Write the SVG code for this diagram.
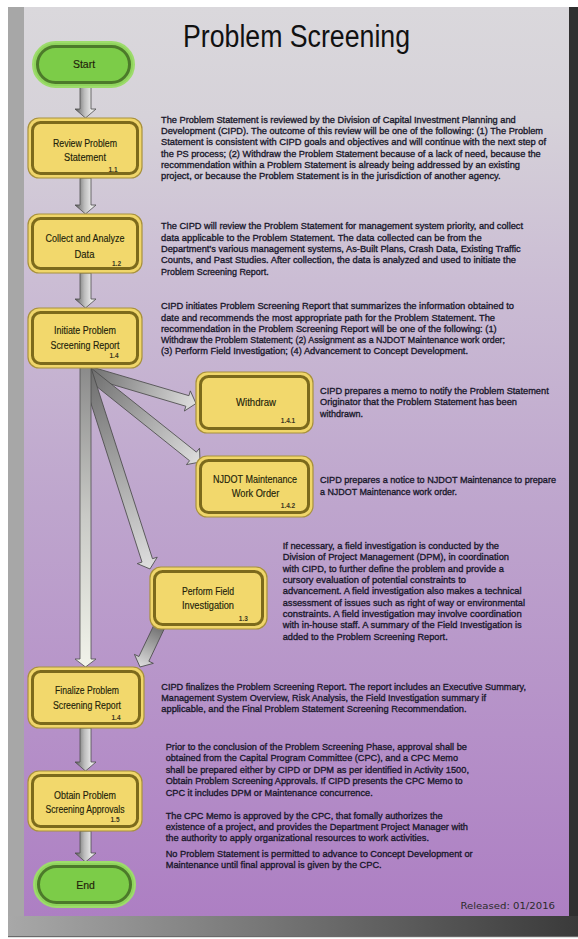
<svg xmlns="http://www.w3.org/2000/svg" width="578" height="939" viewBox="0 0 578 939">
<style>
.t{font-family:"Liberation Sans",Arial,sans-serif;font-size:9.4px;fill:#18172a;stroke:#18172a;stroke-width:0.32}
.lbl{font-family:"Liberation Sans",Arial,sans-serif;font-size:10.5px;fill:#221e0a;stroke:#221e0a;stroke-width:0.15;text-anchor:middle}
.num{font-family:"Liberation Sans",Arial,sans-serif;font-size:6.5px;font-weight:bold;fill:#3a3520;text-anchor:middle}
.box-o{fill:#f0d66a;stroke:#a8913c;stroke-width:1.2}
.box-i{fill:#f2d86c;stroke:#7c6a1c;stroke-width:3}
.pill-o{fill:#8fd45c;stroke:#9ddc6c;stroke-width:2}
.pill-i{fill:#7ccc48;stroke:#4c7a2a;stroke-width:3}
.arr{stroke:#4e4e4e;stroke-width:0.8;stroke-linejoin:miter}
</style>
<defs>
<linearGradient id="bg" x1="0" y1="0" x2="0" y2="1">
<stop offset="0" stop-color="#dad8dc"/>
<stop offset="0.12" stop-color="#d6d2d9"/>
<stop offset="0.3" stop-color="#cbbdd4"/>
<stop offset="0.55" stop-color="#bea5cd"/>
<stop offset="0.8" stop-color="#b590c8"/>
<stop offset="1" stop-color="#ad7fc3"/>
</linearGradient>
<linearGradient id="band" x1="0" y1="0" x2="1" y2="0">
<stop offset="0" stop-color="#a8a8a8"/>
<stop offset="1" stop-color="#3a3a3a"/>
</linearGradient>
<linearGradient id="gCross" x1="0" y1="0" x2="1" y2="0">
<stop offset="0" stop-color="#5a5a5a"/>
<stop offset="0.45" stop-color="#bcbcbc"/>
<stop offset="0.8" stop-color="#ebebeb"/>
<stop offset="1" stop-color="#cfcfcf"/>
</linearGradient>
<linearGradient id="gLen" x1="0" y1="0" x2="0" y2="1">
<stop offset="0" stop-color="#6c6c6c"/>
<stop offset="1" stop-color="#dedede"/>
</linearGradient>
<linearGradient id="gLong" x1="0" y1="0" x2="0" y2="1">
<stop offset="0" stop-color="#8a8a8a"/>
<stop offset="0.5" stop-color="#c9cac6"/>
<stop offset="1" stop-color="#f1f3ea"/>
</linearGradient>
</defs>

<g id="page">
<rect x="0" y="0" width="578" height="939" fill="#ffffff"/>
<rect x="8" y="7" width="16" height="930" fill="#a7a7a7"/>
<rect x="569" y="7" width="9" height="930" fill="#2f2f2f"/>
<rect x="24" y="7" width="545" height="909" fill="url(#bg)"/>
<rect x="8" y="916" width="570" height="21" fill="url(#band)"/>
<rect x="8" y="936" width="570" height="1.2" fill="#6a6a6a"/>
</g>

<text id="title" x="183" y="46.5" font-family="'Liberation Sans',Arial,sans-serif" font-size="31" fill="#111" textLength="227" lengthAdjust="spacingAndGlyphs">Problem Screening</text>

<g id="connectors">
<path class="arr" fill="url(#gLen)" transform="translate(86,371) rotate(-73.54)" d="M-5.5,0 L5.5,0 L5.5,105.7 L10.5,105.7 L0,114.7 L-10.5,105.7 L-5.5,105.7 Z"/>
<path class="arr" fill="url(#gLen)" transform="translate(86,371) rotate(-51.4)" d="M-5.5,0 L5.5,0 L5.5,136.9 L10.5,136.9 L0,145.9 L-10.5,136.9 L-5.5,136.9 Z"/>
<path class="arr" fill="url(#gLen)" transform="translate(86,370) rotate(-17.83)" d="M-5.5,0 L5.5,0 L5.5,200 L10.5,200 L0,209 L-10.5,200 L-5.5,200 Z"/>
<path class="arr" fill="url(#gLong)" d="M80,366 L91,366 L91,659 L96,659 L85.5,667 L75,659 L80,659 Z"/>
<path class="arr" fill="url(#gLen)" transform="translate(160,625) rotate(25.46)" d="M-5.5,0 L5.5,0 L5.5,37.5 L10.5,37.5 L0,46.5 L-10.5,37.5 L-5.5,37.5 Z"/>
<path class="arr" fill="url(#gCross)" d="M80,86 L91,86 L91,109 L96,109 L85.5,118 L75,109 L80,109 Z"/>
<path class="arr" fill="url(#gCross)" d="M80,178 L91,178 L91,205 L96,205 L85.5,214 L75,205 L80,205 Z"/>
<path class="arr" fill="url(#gCross)" d="M80,273 L91,273 L91,299 L96,299 L85.5,308 L75,299 L80,299 Z"/>
<path class="arr" fill="url(#gCross)" d="M80,728 L91,728 L91,762 L96,762 L85.5,771 L75,762 L80,762 Z"/>
<path class="arr" fill="url(#gCross)" d="M80,831 L91,831 L91,853 L96,853 L85.5,862 L75,853 L80,853 Z"/>
</g>

<g id="start">
<rect class="pill-o" x="33" y="42" width="101" height="45" rx="22.5"/>
<rect class="pill-i" x="37.5" y="46.5" width="92" height="36" rx="18"/>
<text class="lbl" x="84" y="68">Start</text>
</g>

<g id="review">
<rect class="box-o" x="28" y="118" width="114" height="60" rx="11"/>
<rect class="box-i" x="32.5" y="122.5" width="105" height="51" rx="8"/>
<text class="lbl" x="85" y="147.2" textLength="64" lengthAdjust="spacingAndGlyphs">Review Problem</text>
<text class="lbl" x="85" y="160.6" textLength="42" lengthAdjust="spacingAndGlyphs">Statement</text>
<text class="num" x="113" y="171.6">1.1</text>
</g>

<g id="collect">
<rect class="box-o" x="28" y="214" width="114" height="59" rx="11"/>
<rect class="box-i" x="32.5" y="218.5" width="105" height="50" rx="8"/>
<text class="lbl" x="85" y="242.2" textLength="79" lengthAdjust="spacingAndGlyphs">Collect and Analyze</text>
<text class="lbl" x="84.5" y="257.6" textLength="20" lengthAdjust="spacingAndGlyphs">Data</text>
<text class="num" x="116.5" y="266.3">1.2</text>
</g>

<g id="initiate">
<rect class="box-o" x="28" y="308" width="114" height="60" rx="11"/>
<rect class="box-i" x="32.5" y="312.5" width="105" height="51" rx="8"/>
<text class="lbl" x="85" y="333.9" textLength="62" lengthAdjust="spacingAndGlyphs">Initiate Problem</text>
<text class="lbl" x="85" y="348.6" textLength="69" lengthAdjust="spacingAndGlyphs">Screening Report</text>
<text class="num" x="114" y="358">1.4</text>
</g>

<g id="withdraw">
<rect class="box-o" x="196" y="372" width="117" height="61" rx="11"/>
<rect class="box-i" x="200.5" y="376.5" width="108" height="52" rx="8"/>
<text class="lbl" x="256" y="405.6" textLength="40" lengthAdjust="spacingAndGlyphs">Withdraw</text>
<text class="num" x="288" y="423.3">1.4.1</text>
</g>

<g id="njdot">
<rect class="box-o" x="196" y="456" width="117" height="61" rx="11"/>
<rect class="box-i" x="200.5" y="460.5" width="108" height="52" rx="8"/>
<text class="lbl" x="255" y="482.9" textLength="84" lengthAdjust="spacingAndGlyphs">NJDOT Maintenance</text>
<text class="lbl" x="255.5" y="496.6" textLength="47.6" lengthAdjust="spacingAndGlyphs">Work Order</text>
<text class="num" x="288" y="508">1.4.2</text>
</g>

<g id="field">
<rect class="box-o" x="150" y="567" width="117" height="62" rx="11"/>
<rect class="box-i" x="154.5" y="571.5" width="108" height="53" rx="8"/>
<text class="lbl" x="208" y="594.6" textLength="52" lengthAdjust="spacingAndGlyphs">Perform Field</text>
<text class="lbl" x="208" y="608.6" textLength="52" lengthAdjust="spacingAndGlyphs">Investigation</text>
<text class="num" x="243.3" y="620.6">1.3</text>
</g>

<g id="finalize">
<rect class="box-o" x="28" y="667" width="116" height="61" rx="11"/>
<rect class="box-i" x="32.5" y="671.5" width="107" height="52" rx="8"/>
<text class="lbl" x="87" y="693.9" textLength="64" lengthAdjust="spacingAndGlyphs">Finalize Problem</text>
<text class="lbl" x="87" y="708.5" textLength="68" lengthAdjust="spacingAndGlyphs">Screening Report</text>
<text class="num" x="116" y="719.6">1.4</text>
</g>

<g id="obtain">
<rect class="box-o" x="28" y="771" width="114" height="60" rx="11"/>
<rect class="box-i" x="32.5" y="775.5" width="105" height="51" rx="8"/>
<text class="lbl" x="85" y="798.9" textLength="62" lengthAdjust="spacingAndGlyphs">Obtain Problem</text>
<text class="lbl" x="85" y="812.5" textLength="79" lengthAdjust="spacingAndGlyphs">Screening Approvals</text>
<text class="num" x="115" y="822.3">1.5</text>
</g>

<g id="end">
<rect class="pill-o" x="34" y="862" width="101" height="45" rx="22.5"/>
<rect class="pill-i" x="38.5" y="866.5" width="92" height="36" rx="18"/>
<text class="lbl" x="85.5" y="888.6">End</text>
</g>

<g id="annotations">
<text class="t" x="161" y="122.7" textLength="354.7" lengthAdjust="spacingAndGlyphs">The Problem Statement is reviewed by the Division of Capital Investment Planning and</text>
<text class="t" x="161" y="134" textLength="382" lengthAdjust="spacingAndGlyphs">Development (CIPD).  The outcome of this review will be one of  the following: (1) The Problem</text>
<text class="t" x="161" y="145.3" textLength="385" lengthAdjust="spacingAndGlyphs">Statement is consistent with CIPD goals and objectives and will continue with the next step of</text>
<text class="t" x="161" y="156.6" textLength="379.7" lengthAdjust="spacingAndGlyphs">the PS process; (2) Withdraw the Problem Statement because of a lack of need, because the</text>
<text class="t" x="161" y="167.9" textLength="359" lengthAdjust="spacingAndGlyphs">recommendation within a Problem Statement is already being addressed by an existing</text>
<text class="t" x="161" y="179.2" textLength="339.7" lengthAdjust="spacingAndGlyphs">project, or because the Problem Statement is in the jurisdiction of another agency.</text>

<text class="t" x="161" y="229.4" textLength="362" lengthAdjust="spacingAndGlyphs">The CIPD will review the Problem Statement for management system priority, and collect</text>
<text class="t" x="161" y="240.7" textLength="320.7" lengthAdjust="spacingAndGlyphs">data applicable to the Problem Statement. The data collected can be from the</text>
<text class="t" x="161" y="252" textLength="359.7" lengthAdjust="spacingAndGlyphs">Department’s various management systems, As-Built Plans, Crash Data, Existing Traffic</text>
<text class="t" x="161" y="263.3" textLength="355" lengthAdjust="spacingAndGlyphs">Counts, and Past Studies. After collection, the data is analyzed and used to initiate the</text>
<text class="t" x="161" y="274.6" textLength="107.7" lengthAdjust="spacingAndGlyphs">Problem Screening Report.</text>

<text class="t" x="161" y="309.4" textLength="353" lengthAdjust="spacingAndGlyphs">CIPD initiates Problem Screening Report that summarizes the information obtained to</text>
<text class="t" x="161" y="320.7" textLength="334" lengthAdjust="spacingAndGlyphs">date and recommends the most appropriate path for the Problem Statement. The</text>
<text class="t" x="161" y="331.9" textLength="335.7" lengthAdjust="spacingAndGlyphs">recommendation in the Problem Screening Report will be one of the following: (1)</text>
<text class="t" x="161" y="343.2" textLength="344" lengthAdjust="spacingAndGlyphs">Withdraw the Problem Statement; (2) Assignment as a NJDOT Maintenance work order;</text>
<text class="t" x="161" y="354.4" textLength="307" lengthAdjust="spacingAndGlyphs">(3) Perform Field Investigation; (4) Advancement to Concept Development.</text>

<text class="t" x="320" y="394.1" textLength="228.7" lengthAdjust="spacingAndGlyphs">CIPD prepares a memo to notify the Problem Statement</text>
<text class="t" x="320" y="405.2" textLength="197" lengthAdjust="spacingAndGlyphs">Originator that the Problem Statement has been</text>
<text class="t" x="320" y="416.5" textLength="43" lengthAdjust="spacingAndGlyphs">withdrawn.</text>

<text class="t" x="320" y="483.4" textLength="236" lengthAdjust="spacingAndGlyphs">CIPD prepares a notice to NJDOT Maintenance to prepare</text>
<text class="t" x="320" y="494.9" textLength="137" lengthAdjust="spacingAndGlyphs">a NJDOT Maintenance work order.</text>

<text class="t" x="282.7" y="549.1" textLength="216.3" lengthAdjust="spacingAndGlyphs">If necessary, a field investigation is conducted by the</text>
<text class="t" x="282.7" y="560.4" textLength="226.3" lengthAdjust="spacingAndGlyphs">Division of Project Management (DPM), in coordination</text>
<text class="t" x="282.7" y="571.7" textLength="221.3" lengthAdjust="spacingAndGlyphs">with CIPD, to further define the problem and provide a</text>
<text class="t" x="282.7" y="583" textLength="183.3" lengthAdjust="spacingAndGlyphs">cursory evaluation of potential constraints to</text>
<text class="t" x="282.7" y="594.3" textLength="239" lengthAdjust="spacingAndGlyphs">advancement. A field investigation also makes a technical</text>
<text class="t" x="282.7" y="605.6" textLength="242.3" lengthAdjust="spacingAndGlyphs">assessment of issues such as right of way or environmental</text>
<text class="t" x="282.7" y="616.9" textLength="239" lengthAdjust="spacingAndGlyphs">constraints. A field investigation may involve coordination</text>
<text class="t" x="282.7" y="628.2" textLength="239" lengthAdjust="spacingAndGlyphs">with in-house staff. A summary of the Field Investigation is</text>
<text class="t" x="282.7" y="639.5" textLength="165" lengthAdjust="spacingAndGlyphs">added to the Problem Screening Report.</text>

<text class="t" x="161.3" y="690.1" textLength="364.7" lengthAdjust="spacingAndGlyphs">CIPD finalizes the Problem Screening Report. The report includes an Executive Summary,</text>
<text class="t" x="161.3" y="701.1" textLength="324.7" lengthAdjust="spacingAndGlyphs">Management System Overview, Risk Analysis, the Field Investigation summary if</text>
<text class="t" x="161.3" y="712.1" textLength="305.3" lengthAdjust="spacingAndGlyphs">applicable, and the Final Problem Statement Screening Recommendation.</text>

<text class="t" x="165.7" y="750.1" textLength="301.3" lengthAdjust="spacingAndGlyphs">Prior to the conclusion of the Problem Screening Phase, approval shall be</text>
<text class="t" x="165.7" y="761.4" textLength="292.3" lengthAdjust="spacingAndGlyphs">obtained from the Capital Program Committee (CPC), and a CPC Memo</text>
<text class="t" x="165.7" y="772.7" textLength="303.3" lengthAdjust="spacingAndGlyphs">shall be prepared either by CIPD or DPM as per identified in Activity 1500,</text>
<text class="t" x="165.7" y="784.1" textLength="297" lengthAdjust="spacingAndGlyphs">Obtain Problem Screening Approvals. If CIPD presents the CPC Memo to</text>
<text class="t" x="165.7" y="795.7" textLength="207" lengthAdjust="spacingAndGlyphs">CPC it includes DPM or Maintenance concurrence.</text>
<text class="t" x="165.7" y="818.7" textLength="277" lengthAdjust="spacingAndGlyphs">The CPC Memo is approved by the CPC, that fomally authorizes the</text>
<text class="t" x="165.7" y="830.1" textLength="302.3" lengthAdjust="spacingAndGlyphs">existence of a project, and provides the Department Project Manager with</text>
<text class="t" x="165.7" y="841.4" textLength="263.3" lengthAdjust="spacingAndGlyphs">the authority to apply organizational resources to work activities.</text>
<text class="t" x="165.7" y="857.4" textLength="307" lengthAdjust="spacingAndGlyphs">No Problem Statement is permitted to advance to Concept Development or</text>
<text class="t" x="165.7" y="868.4" textLength="216" lengthAdjust="spacingAndGlyphs">Maintenance until final approval is given by the CPC.</text>
</g>

<text id="released" x="460.5" y="909" font-family="'DejaVu Sans',Verdana,sans-serif" font-size="9.5" fill="#2b2b2b" textLength="94.5" lengthAdjust="spacingAndGlyphs">Released: 01/2016</text>
</svg>
